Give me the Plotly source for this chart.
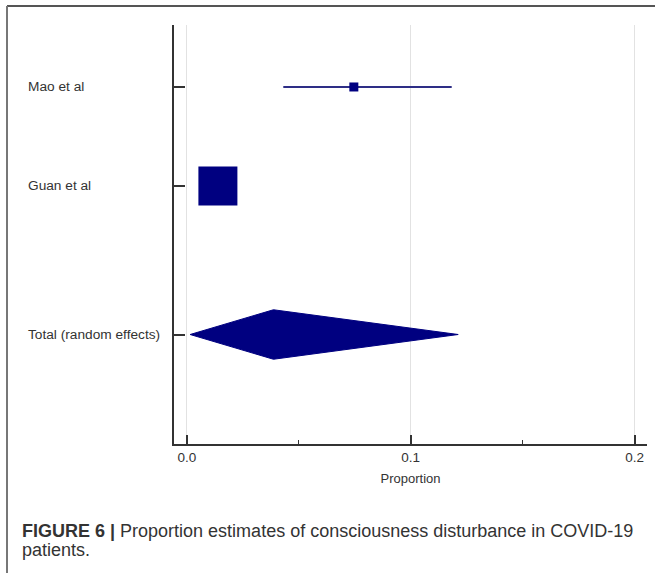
import plotly.graph_objects as go

# ---- data ----
studies = ["Mao et al", "Guan et al"]
study_est = [0.0746, 0.0139]
study_lo = [0.0431, 0.0085]
study_hi = [0.1183, 0.0205]

pooled_label = "Total (random effects)"
pooled_est = 0.0387
pooled_lo = 0.0015
pooled_hi = 0.1212

x_ticks = [0.0, 0.1, 0.2]
x_tick_labels = ["0.0", "0.1", "0.2"]
x_title = "Proportion"
caption_bold = "FIGURE 6 |"
caption_rest = "Proportion estimates of consciousness disturbance in COVID-19"
caption_line2 = "patients."

# ---- layout constants ----
row_y = [1, 2]          # study rows
pooled_y = 3.5          # pooled row
diamond_half = 0.25
marker_sizes = [9, 39]
NAVY = "#000080"
TXT = "#333333"
FONT = "Liberation Sans, Arial, sans-serif"

W, H = 655, 573
L, R, T, B = 174, 8, 25, 129
pw, ph = W - L - R, H - T - B

def px_x(p):
    return (p - L) / pw

def px_y(p):
    return (H - B - p) / ph

fig = go.Figure()

# CI lines
for i in range(len(studies)):
    fig.add_trace(go.Scatter(
        x=[study_lo[i], study_hi[i]], y=[row_y[i], row_y[i]],
        mode="lines", line=dict(color="#2e2e86", width=2),
        hoverinfo="skip", showlegend=False))

# point estimates (squares)
fig.add_trace(go.Scatter(
    x=study_est, y=row_y, mode="markers",
    marker=dict(symbol="square", size=marker_sizes, color=NAVY,
                opacity=1, line=dict(width=0)),
    showlegend=False))

# pooled diamond
fig.add_trace(go.Scatter(
    x=[pooled_lo, pooled_est, pooled_hi, pooled_est, pooled_lo],
    y=[pooled_y, pooled_y - diamond_half, pooled_y, pooled_y + diamond_half, pooled_y],
    mode="lines", fill="toself", fillcolor=NAVY,
    line=dict(color=NAVY, width=1), showlegend=False))

labels = studies + [pooled_label]
ypos = row_y + [pooled_y]

annotations = []
for lab, yv in zip(labels, ypos):
    annotations.append(dict(
        text=lab, x=px_x(26), xref="paper", y=yv, yref="y",
        xanchor="left", yanchor="middle", showarrow=False,
        font=dict(family=FONT, size=13.7, color=TXT)))

annotations.append(dict(
    text=f"<b>{caption_bold}</b> {caption_rest}",
    x=px_x(20), xref="paper", y=px_y(531), yref="paper",
    xanchor="left", yanchor="middle", align="left", showarrow=False,
    font=dict(family=FONT, size=18, color=TXT)))
annotations.append(dict(
    text=caption_line2,
    x=px_x(20), xref="paper", y=px_y(550), yref="paper",
    xanchor="left", yanchor="middle", align="left", showarrow=False,
    font=dict(family=FONT, size=18, color=TXT)))

shapes = [
    dict(type="line", xref="paper", yref="paper",
         x0=px_x(7), x1=px_x(W + 2), y0=px_y(6), y1=px_y(6),
         line=dict(color="#555555", width=2)),
    dict(type="line", xref="paper", yref="paper",
         x0=px_x(7), x1=px_x(7), y0=px_y(6), y1=px_y(H + 2),
         line=dict(color="#777777", width=2)),
]

fig.update_layout(
    width=W, height=H,
    margin=dict(l=L, r=R, t=T, b=B),
    paper_bgcolor="white", plot_bgcolor="white",
    font=dict(family=FONT, size=13, color=TXT),
    annotations=annotations, shapes=shapes,
    xaxis=dict(
        range=[-0.0057, 0.2055],
        tickvals=x_ticks, ticktext=x_tick_labels,
        ticks="inside", ticklen=9, tickwidth=1.5, tickcolor="#333333",
        showline=True, linecolor="#333333", linewidth=2,
        showgrid=True, gridcolor="#e2e2e2", gridwidth=1,
        zeroline=False,
        minor=dict(tick0=0, dtick=0.05, ticks="inside", ticklen=4,
                   tickcolor="#333333", tickwidth=1, showgrid=False),
        title=dict(text=x_title, font=dict(family=FONT, size=13, color=TXT), standoff=10),
        tickfont=dict(family=FONT, size=13.5, color=TXT),
    ),
    yaxis=dict(
        range=[4.606, 0.374],
        tickvals=ypos, ticktext=[""] * len(ypos),
        ticks="inside", ticklen=11, tickwidth=1.5, tickcolor="#333333",
        showline=True, linecolor="#333333", linewidth=2,
        showgrid=False, zeroline=False, showticklabels=False,
    ),
)

fig.write_html("out.html", config={"displayModeBar": False},
               post_script="document.body.style.margin='0';")
